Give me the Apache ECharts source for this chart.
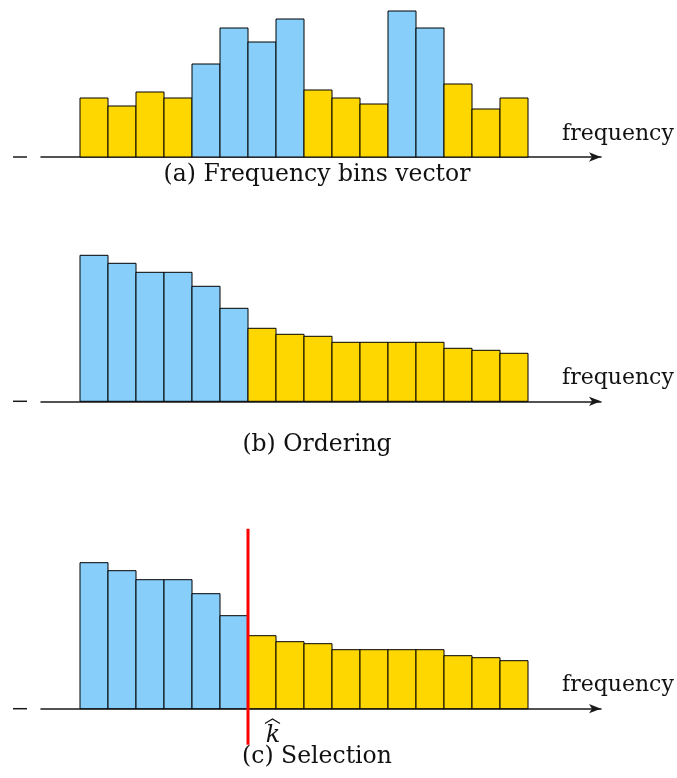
<!DOCTYPE html>
<html>
<head>
<meta charset="utf-8">
<style>
  html, body { margin: 0; padding: 0; background: #fff; }
  #chart { width: 677px; height: 778px; }
</style>
<script src="https://cdn.jsdelivr.net/npm/echarts@6/dist/echarts.min.js"></script>
</head>
<body>
<div id="chart"></div>
<script>
// Energy in each frequency bin, in original order
const binEnergy = [59, 51, 65, 59, 93, 129, 115, 138, 67, 59, 53, 146, 129, 73, 48, 59];
// Which bins end up among the k largest (1 = kept)
const binKept = [0, 0, 0, 0, 1, 1, 1, 1, 0, 0, 0, 1, 1, 0, 0, 0];

// The same bins ranked by energy, largest first
const rankedEnergy = [146, 138, 129, 129, 115, 93, 73, 67, 65, 59, 59, 59, 59, 53, 51, 48];
const rankedKept = [1, 1, 1, 1, 1, 1, 0, 0, 0, 0, 0, 0, 0, 0, 0, 0];

// Selection threshold: number of bins kept
const kHat = 6;
const cutLineSpan = [-36, 180];

const captions = ['(a) Frequency bins vector', '(b) Ordering', '(c) Selection'];
const axisName = 'frequency';

const KEPT_COLOR = '#87CEFA';
const REST_COLOR = '#FFD700';
const FONT = 'DejaVu Serif';

// Layout: one grid per panel; 1 value unit = 1 px vertically, 1 bin = 28 px
const GRID_LEFT = 41, GRID_WIDTH = 560, BIN_PX = 28, FIRST_BIN_PX = 80;
const xMin = -(FIRST_BIN_PX - GRID_LEFT) / BIN_PX;
const xMax = xMin + GRID_WIDTH / BIN_PX;

const panels = [
  { values: binEnergy, kept: binKept, yMin: 0, yMax: 150, top: 7 },
  { values: rankedEnergy, kept: rankedKept, yMin: 0, yMax: 150, top: 251.3 },
  { values: rankedEnergy, kept: rankedKept, yMin: -40, yMax: 185, top: 523.7 }
];

const grids = [], xAxes = [], yAxes = [], series = [], graphics = [];

panels.forEach((p, idx) => {
  const height = p.yMax - p.yMin;
  grids.push({ left: GRID_LEFT, width: GRID_WIDTH, top: p.top, height: height });
  xAxes.push({
    type: 'value', gridIndex: idx, min: xMin, max: xMax,
    axisLine: { show: true, onZero: true, symbol: ['none', 'arrow'], symbolSize: [7, 12],
      lineStyle: { color: '#1a1a1a', width: 1.5 } },
    axisTick: { show: false }, axisLabel: { show: false }, splitLine: { show: false },
    name: axisName, nameLocation: 'end', nameGap: -39,
    nameTextStyle: { fontFamily: FONT, fontSize: 22, color: '#111',
      verticalAlign: 'bottom', padding: [0, 0, 12, 0] }
  });
  yAxes.push({ type: 'value', gridIndex: idx, min: p.yMin, max: p.yMax, show: false });

  series.push({
    type: 'custom', xAxisIndex: idx, yAxisIndex: idx,
    data: p.values.map((v, i) => [i, v, p.kept[i]]),
    renderItem: function (params, api) {
      const i = api.value(0);
      const topLeft = api.coord([i, api.value(1)]);
      const bottomRight = api.coord([i + 1, 0]);
      return {
        type: 'rect',
        shape: { x: topLeft[0], y: topLeft[1],
                 width: bottomRight[0] - topLeft[0], height: bottomRight[1] - topLeft[1] },
        style: { fill: api.value(2) ? KEPT_COLOR : REST_COLOR, stroke: '#000', lineWidth: 1 }
      };
    },
    z: 2
  });

  // short stub left of each axis
  const baseline = p.top + p.yMax;
  graphics.push({ type: 'line', shape: { x1: 13, y1: baseline, x2: 27, y2: baseline },
    style: { stroke: '#1a1a1a', lineWidth: 1.5 } });
});

// Selection cut in panel (c)
series.push({
  type: 'line', xAxisIndex: 2, yAxisIndex: 2,
  data: [[kHat, cutLineSpan[0]], [kHat, cutLineSpan[1]]],
  showSymbol: false, symbol: 'none', silent: true,
  lineStyle: { color: '#ff0000', width: 3 }, z: 5
});

// Captions
const captionY = [174.5, 445, 757];
captions.forEach((t, i) => {
  graphics.push({ type: 'text', x: 317, y: captionY[i],
    style: { text: t, font: '23.5px "' + FONT + '"', fill: '#111', align: 'center', verticalAlign: 'middle' } });
});

// k-hat label beside the cut
graphics.push({ type: 'text', x: 273, y: 736,
  style: { text: 'k', font: 'italic 24px "' + FONT + '"', fill: '#111', align: 'center', verticalAlign: 'middle' } });
graphics.push({ type: 'polyline', shape: { points: [[265, 723.5], [272.5, 719], [280, 723.5]] },
  style: { stroke: '#111', lineWidth: 1.2, fill: null } });

const chart = echarts.init(document.getElementById('chart'), null, { renderer: 'canvas' });
chart.setOption({
  animation: false,
  backgroundColor: '#fff',
  grid: grids, xAxis: xAxes, yAxis: yAxes, series: series,
  graphic: graphics
});
</script>
</body>
</html>
